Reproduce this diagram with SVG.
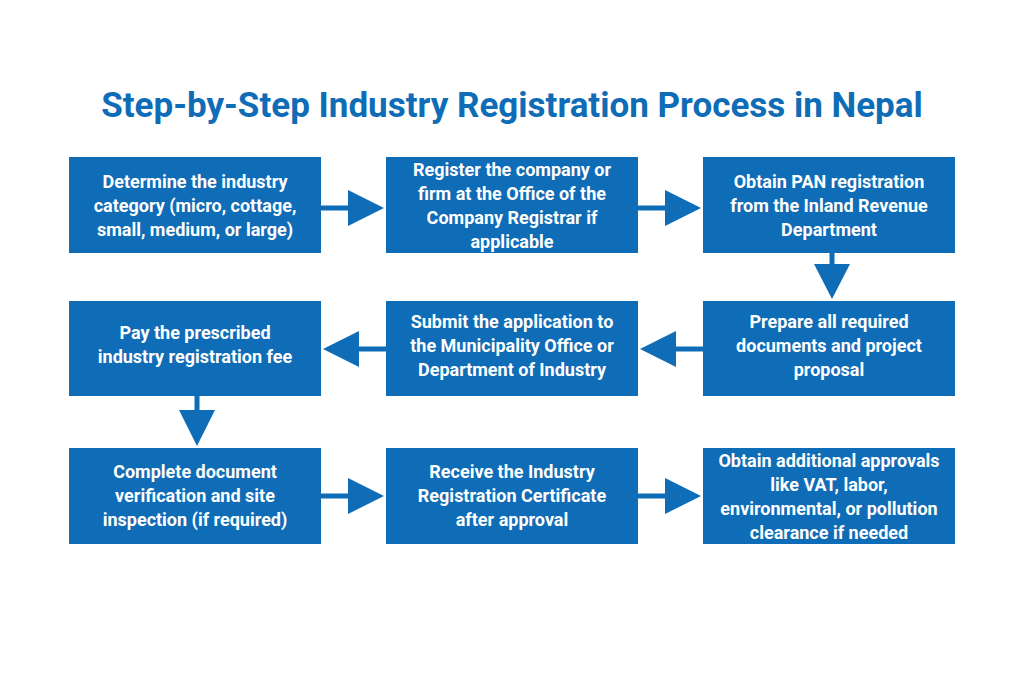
<svg xmlns="http://www.w3.org/2000/svg" width="1024" height="683" viewBox="0 0 1024 683">
<style>
.b{fill:#0f6cb6}
.t{font-family:Roboto,"Liberation Sans",sans-serif;font-weight:bold;font-size:18px;fill:#fff;text-anchor:middle}
.c{stroke:#0f6cb6;stroke-width:5;fill:none}
.h{fill:#0f6cb6}
</style>
<rect width="1024" height="683" fill="#fff"/>
<text x="512" y="117" font-family="Roboto,'Liberation Sans',sans-serif" font-weight="bold" font-size="35" fill="#0f6cb6" text-anchor="middle">Step-by-Step Industry Registration Process in Nepal</text>
<g id="n1"><rect class="b" x="69" y="157" width="252" height="96"/><text class="t"><tspan x="195" y="188">Determine the industry</tspan><tspan x="195" y="212">category (micro, cottage,</tspan><tspan x="195" y="236">small, medium, or large)</tspan></text></g>
<g id="n2"><rect class="b" x="386" y="157" width="252" height="96"/><text class="t"><tspan x="512" y="176">Register the company or</tspan><tspan x="512" y="200">firm at the Office of the</tspan><tspan x="512" y="224">Company Registrar if</tspan><tspan x="512" y="248">applicable</tspan></text></g>
<g id="n3"><rect class="b" x="703" y="157" width="252" height="96"/><text class="t"><tspan x="829" y="188">Obtain PAN registration</tspan><tspan x="829" y="212">from the Inland Revenue</tspan><tspan x="829" y="236">Department</tspan></text></g>
<g id="n4"><rect class="b" x="703" y="301" width="252" height="95"/><text class="t"><tspan x="829" y="328">Prepare all required</tspan><tspan x="829" y="352">documents and project</tspan><tspan x="829" y="376">proposal</tspan></text></g>
<g id="n5"><rect class="b" x="386" y="301" width="252" height="95"/><text class="t"><tspan x="512" y="328">Submit the application to</tspan><tspan x="512" y="352">the Municipality Office or</tspan><tspan x="512" y="376">Department of Industry</tspan></text></g>
<g id="n6"><rect class="b" x="69" y="301" width="252" height="95"/><text class="t"><tspan x="195" y="339">Pay the prescribed</tspan><tspan x="195" y="363">industry registration fee</tspan></text></g>
<g id="n7"><rect class="b" x="69" y="448" width="252" height="96"/><text class="t"><tspan x="195" y="478">Complete document</tspan><tspan x="195" y="502">verification and site</tspan><tspan x="195" y="526">inspection (if required)</tspan></text></g>
<g id="n8"><rect class="b" x="386" y="448" width="252" height="96"/><text class="t"><tspan x="512" y="478">Receive the Industry</tspan><tspan x="512" y="502">Registration Certificate</tspan><tspan x="512" y="526">after approval</tspan></text></g>
<g id="n9"><rect class="b" x="703" y="448" width="252" height="96"/><text class="t"><tspan x="829" y="467">Obtain additional approvals</tspan><tspan x="829" y="491">like VAT, labor,</tspan><tspan x="829" y="515">environmental, or pollution</tspan><tspan x="829" y="539">clearance if needed</tspan></text></g>
<g id="connectors">
<path class="c" d="M321 208H352"/><path class="h" d="M348 190L384 208L348 226Z"/>
<path class="c" d="M638 208H669"/><path class="h" d="M665 190L701 208L665 226Z"/>
<path class="c" d="M832 253V268"/><path class="h" d="M814 264L832 299L850 264Z"/>
<path class="c" d="M703 349H672"/><path class="h" d="M676 331L640 349L676 367Z"/>
<path class="c" d="M386 349H355"/><path class="h" d="M359 331L323 349L359 367Z"/>
<path class="c" d="M197 396V413"/><path class="h" d="M179 410L197 446L215 410Z"/>
<path class="c" d="M321 496H352"/><path class="h" d="M348 478L384 496L348 514Z"/>
<path class="c" d="M638 496H669"/><path class="h" d="M665 478L701 496L665 514Z"/>
</g>
</svg>
